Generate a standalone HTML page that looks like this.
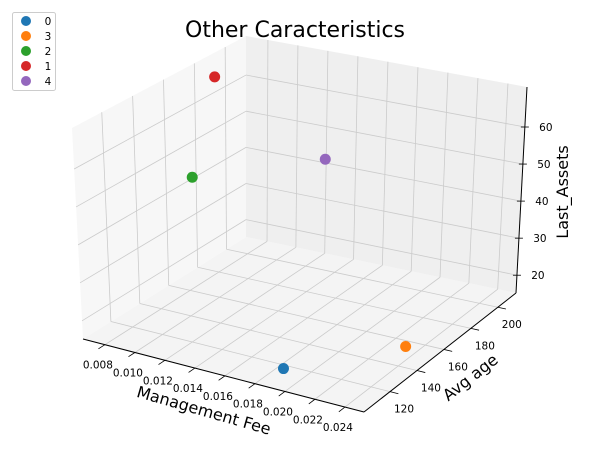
<!DOCTYPE html>
<html><head><meta charset="utf-8"><style>
body{margin:0;background:#fff;width:590px;height:446px;overflow:hidden}
svg text{font-family:"DejaVu Sans","Liberation Sans",sans-serif}
</style></head><body>
<svg id="chart" width="590" height="446" viewBox="0 0 590 446">
<text x="295" y="37" font-size="22" text-anchor="middle" fill="#000">Other Caracteristics</text>
<g id="panes"></g>
<g id="grid"></g>
<g id="axes"></g>
<g id="pts"></g>
<text x="204" y="416" font-size="16" text-anchor="middle" transform="rotate(16 204 410)">Management Fee</text>
<text x="470" y="383" font-size="16" text-anchor="middle" transform="rotate(-38 470 377)">Avg age</text>
<text x="568" y="192" font-size="16" text-anchor="middle" transform="rotate(-90 568 192)">Last_Assets</text>
<g>
<rect x="12.5" y="12.5" width="43" height="78" rx="2" fill="#fff" stroke="#ccc"/>
<g id="leg"></g>
</g>
</svg>
<script>
const labels=["0","3","2","1","4"];
const colors=["#1f77b4","#ff7f0e","#2ca02c","#d62728","#9467bd"];
const fee=[0.0184,0.0231,0.0083,0.0078,0.0155];
const age=[117,155.3,160,180.7,177];
const assets=[15.3,15.3,46,68,53];
const xTicks=[0.008,0.010,0.012,0.014,0.016,0.018,0.020,0.022,0.024];
const yTicks=[120,140,160,180,200];
const zTicks=[20,30,40,50,60];
const XL=[0.00654,0.02527],YL=[100.7,213.5],ZL=[15.2,70.8];
const B0={A:[83,339],B:[364,412],C:[516,293],D:[246,237]};
const T0={A:[72,128],B:[364,199],C:[527,87],D:[246,36]};
function bil(P,u,v){const r=[];for(let i=0;i<2;i++){r[i]=(1-u)*(1-v)*P.A[i]+u*(1-v)*P.B[i]+u*v*P.C[i]+(1-u)*v*P.D[i];}return r;}
function proj(x,y,z){const u=(x-XL[0])/(XL[1]-XL[0]),v=(y-YL[0])/(YL[1]-YL[0]),w=(z-ZL[0])/(ZL[1]-ZL[0]);
const b=bil(B0,u,v),t=bil(T0,u,v);return [b[0]+w*(t[0]-b[0]),b[1]+w*(t[1]-b[1])];}
const NS="http://www.w3.org/2000/svg";
function mk(tag,attrs,parent){const e=document.createElementNS(NS,tag);for(const k in attrs)e.setAttribute(k,attrs[k]);parent.appendChild(e);return e;}
const panes=document.getElementById('panes'),grid=document.getElementById('grid'),axes=document.getElementById('axes'),pts=document.getElementById('pts'),leg=document.getElementById('leg');
function poly(ps,fill,name){const e=mk('polygon',{points:ps.map(p=>p.join(',')).join(' '),fill:fill},panes);

}
const[x0,x1]=XL,[y0,y1]=YL,[z0,z1]=ZL;
poly([proj(x0,y0,z0),proj(x1,y0,z0),proj(x1,y1,z0),proj(x0,y1,z0)],'#f4f4f4','floor-pane');
poly([proj(x0,y0,z0),proj(x0,y1,z0),proj(x0,y1,z1),proj(x0,y0,z1)],'#f7f7f7','left-pane');
poly([proj(x0,y1,z0),proj(x1,y1,z0),proj(x1,y1,z1),proj(x0,y1,z1)],'#efefef','back-pane');
function ln(p,q,parent,col,w,name){const e=mk('line',{x1:p[0],y1:p[1],x2:q[0],y2:q[1],stroke:col,'stroke-width':w},parent);

return e;}
const gc='#cbcbcb';
xTicks.forEach(t=>{ln(proj(t,y0,z0),proj(t,y1,z0),grid,gc,0.8,'x-gridline');ln(proj(t,y1,z0),proj(t,y1,z1),grid,gc,0.8,'x-gridline');});
yTicks.forEach(t=>{ln(proj(x0,t,z0),proj(x1,t,z0),grid,gc,0.8,'y-gridline');ln(proj(x0,t,z0),proj(x0,t,z1),grid,gc,0.8,'y-gridline');});
zTicks.forEach(t=>{ln(proj(x0,y0,t),proj(x0,y1,t),grid,gc,0.8,'z-gridline');ln(proj(x0,y1,t),proj(x1,y1,t),grid,gc,0.8,'z-gridline');});
ln(proj(x0,y0,z0),proj(x1,y0,z0),axes,'#000',1,'x-axis-line');
ln(proj(x1,y0,z0),proj(x1,y1,z0),axes,'#000',1,'y-axis-line');
ln(proj(x1,y1,z0),proj(x1,y1,z1),axes,'#000',1,'z-axis-line');
function txt(s,p,name){const e=mk('text',{x:p[0],y:p[1],'font-size':10.5,'text-anchor':'middle',fill:'#000'},axes);e.textContent=s;

}
const dy=(y1-y0)*0.04,dx=(x1-x0)*0.03;
xTicks.forEach(t=>{const p=proj(t,y0,z0),q=proj(t,y0-dy,z0);ln(p,q,axes,'#000',0.8,'x-tick');txt(t.toFixed(3),[p[0]-7,p[1]+24],'x-tick-label');});
yTicks.forEach(t=>{const p=proj(x1,t,z0),q=proj(x1+dx,t,z0);ln(p,q,axes,'#000',0.8,'y-tick');txt(String(t),[p[0]+14,p[1]+21],'y-tick-label');});
zTicks.forEach(t=>{const p=proj(x1,y1,t);ln([p[0]-4,p[1]],[p[0]+4,p[1]],axes,'#000',0.8,'z-tick');txt(String(t),[p[0]+21,p[1]+4],'z-tick-label');});
labels.forEach((l,i)=>{const p=proj(fee[i],age[i],assets[i]);const c=mk('circle',{cx:p[0],cy:p[1],r:5.5,fill:colors[i]},pts);


const ly=21+i*15;const m=mk('circle',{cx:26,cy:ly,r:5,fill:colors[i]},leg);


const t=mk('text',{x:48,y:ly+4,'font-size':10.5,'text-anchor':'middle'},leg);t.textContent=l;

});
</script>
</body></html>
